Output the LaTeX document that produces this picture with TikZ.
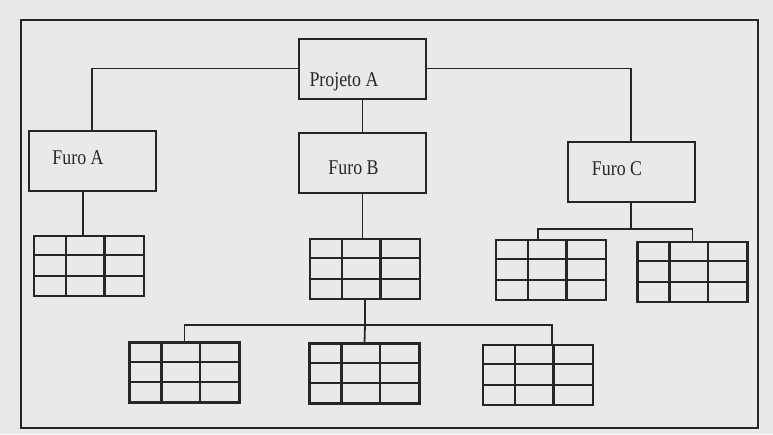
\documentclass[tikz,border=0pt]{standalone}
\usepackage{fontspec}
\setmainfont{Liberation Serif}[FakeStretch=0.85]
\usetikzlibrary{calc}
\definecolor{paper}{HTML}{E9E9E9}
\definecolor{ink}{HTML}{262626}
\tikzset{
  box/.style={draw=ink, line width=2pt, minimum width=127pt, minimum height=60pt, inner sep=0pt},
  lbl/.style={anchor=base, text=ink, font=\fontsize{21}{21}\selectfont, inner sep=0pt},
  wire/.style={draw=ink, line width=1.8pt},
  tbl/.style={draw=ink, line width=2.2pt, minimum width=110pt, minimum height=60pt, inner sep=0pt,
    path picture={
      \foreach \f in {0.29,0.64}{
        \draw[ink, line width=2.2pt]
          ($(path picture bounding box.north west)!\f!(path picture bounding box.north east)$) --
          ($(path picture bounding box.south west)!\f!(path picture bounding box.south east)$);}
      \foreach \f in {0.32,0.66}{
        \draw[ink, line width=2.2pt]
          ($(path picture bounding box.north west)!\f!(path picture bounding box.south west)$) --
          ($(path picture bounding box.north east)!\f!(path picture bounding box.south east)$);}
    }},
}
\begin{document}
\begin{tikzpicture}[x=1pt, y=-1pt]
  \useasboundingbox (0,0) rectangle (773,434);
  \fill[paper] (0,0) rectangle (773,434);

  % outer frame
  \node[draw=ink, line width=1.6pt, minimum width=737pt, minimum height=408pt, inner sep=0pt] (frame) at (389.5,224) {};

  % project and boreholes
  \node[box] (projA) at (362.5,68.5) {};
  \node[box] (furoA) at (92,161) {};
  \node[box] (furoB) at (362.5,163) {};
  \node[box] (furoC) at (631,172) {};

  \node[lbl] (projAtxt) at ($(projA.center)+(-18.5,17.5)$) {Projeto A};
  \node[lbl] (furoAtxt) at ($(furoA.center)+(-14,3)$) {Furo A};
  \node[lbl] (furoBtxt) at ($(furoB.center)+(-9,11)$) {Furo B};
  \node[lbl] (furoCtxt) at ($(furoC.center)+(-14,3)$) {Furo C};

  % tables
  \node[tbl] (tA)  at (89,266) {};
  \node[tbl] (tB)  at (365,269) {};
  \node[tbl] (tB1) at (184.5,372.5) {};
  \node[tbl] (tB2) at (364.5,373.5) {};
  \node[tbl] (tB3) at (538,375) {};
  \node[tbl] (tC1) at (551,270) {};
  \node[tbl] (tC2) at (692.5,272) {};

  % junctions
  \coordinate (jB) at (365,325);
  \coordinate (jC) at (631,229);

  % connectors
  \draw[wire] (projA.west) -| (furoA.north);
  \draw[wire] (projA.south) -- (furoB.north);
  \draw[wire] (projA.east) -| (furoC.north);

  \draw[wire] ([xshift=-6pt]tA.north) -- ([xshift=-6pt]tA.north |- furoA.south);
  \draw[wire] (furoB.south) -- (furoB.south |- tB.north);

  \draw[wire] (tB.south) -- (jB);
  \draw[wire] (tB1.north) |- (jB);
  \draw[wire] ([xshift=14pt]tB3.north) |- (jB);
  \draw[wire] (jB) -- (tB2.north);

  \draw[wire] (furoC.south) -- (jC);
  \draw[wire] ([xshift=-13pt]tC1.north) |- (jC);
  \draw[wire] (tC2.north) |- (jC);
\end{tikzpicture}
\end{document}
